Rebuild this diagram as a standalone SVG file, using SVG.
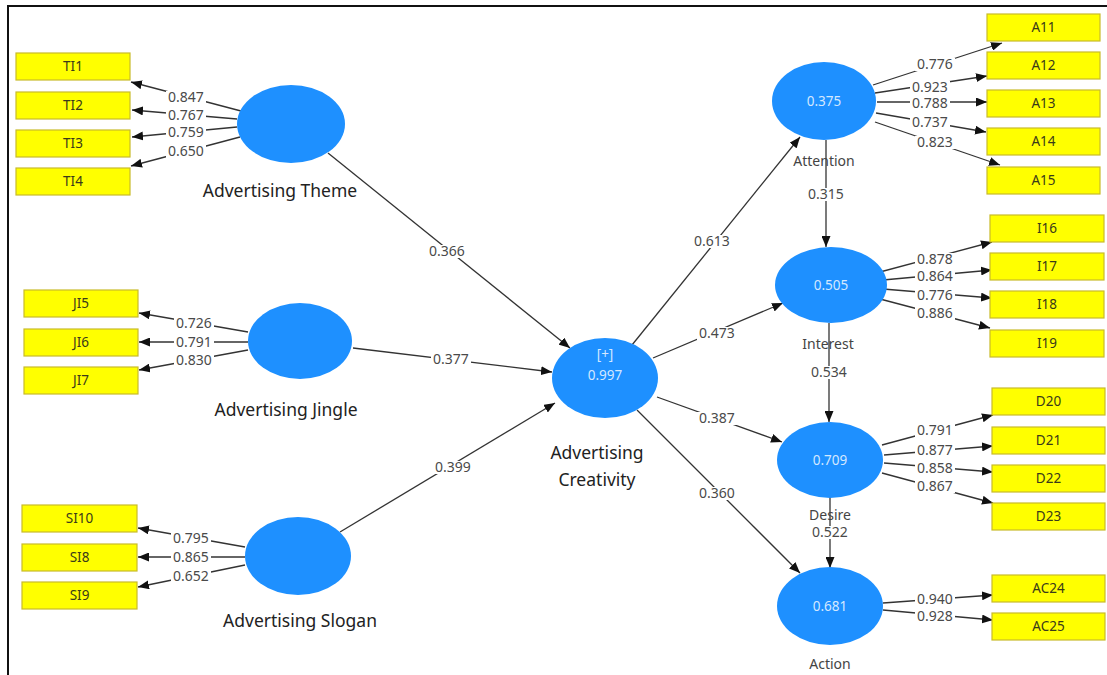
<svg xmlns="http://www.w3.org/2000/svg" width="1107" height="675" viewBox="0 0 1107 675">
<defs>
<marker id="ah" markerWidth="11" markerHeight="9" refX="11" refY="4.5" orient="auto" markerUnits="userSpaceOnUse"><path d="M0,0 L11,4.5 L0,9 z" fill="#111"/></marker>
<style>
.box{fill:#ffff00;stroke:#c9bb2a;stroke-width:1.2}
.bt{font-family:"Noto Sans","Liberation Sans",sans-serif;font-size:13.5px;fill:#3a3a1a;text-anchor:middle}
.lv{fill:#1e90ff}
.lt{font-family:"Noto Sans","Liberation Sans",sans-serif;font-size:13.5px;fill:#d4e8ff;text-anchor:middle}
.nm{font-family:"Noto Sans","Liberation Sans",sans-serif;font-size:17.5px;fill:#222;text-anchor:middle}
.nm2{font-family:"Noto Sans","Liberation Sans",sans-serif;font-size:14px;fill:#444;text-anchor:middle}
.c{stroke:#333;stroke-width:1.3;fill:none;marker-end:url(#ah)}
.bg{fill:#fff}
.w{font-family:"Noto Sans","Liberation Sans",sans-serif;font-size:14px;fill:#4a4a4a;text-anchor:middle}
</style>
</defs>
<rect width="1107" height="675" fill="#fff"/>
<path d="M8,675 L8,6 L1107,6" fill="none" stroke="#111" stroke-width="2"/>

<g id="connectors">
<line class="c" x1="241" y1="111" x2="131" y2="82"/>
<line class="c" x1="237" y1="119" x2="132" y2="110"/>
<line class="c" x1="237" y1="127" x2="132" y2="137"/>
<line class="c" x1="240" y1="137" x2="131" y2="166"/>
<line class="c" x1="248" y1="332" x2="139" y2="313"/>
<line class="c" x1="248" y1="342" x2="139" y2="342"/>
<line class="c" x1="248" y1="350" x2="139" y2="370"/>
<line class="c" x1="245" y1="547" x2="138" y2="528"/>
<line class="c" x1="245" y1="557" x2="138" y2="557"/>
<line class="c" x1="245" y1="565" x2="138" y2="587"/>
<line class="c" x1="328" y1="153" x2="570" y2="348"/>
<line class="c" x1="353" y1="348" x2="552" y2="372"/>
<line class="c" x1="340" y1="532" x2="555" y2="403"/>
<line class="c" x1="632" y1="345" x2="800" y2="137"/>
<line class="c" x1="653" y1="358" x2="783" y2="303"/>
<line class="c" x1="657" y1="397" x2="782" y2="442"/>
<line class="c" x1="637" y1="410" x2="800" y2="573"/>
<line class="c" x1="826" y1="140" x2="826" y2="247"/>
<line class="c" x1="829" y1="323" x2="829" y2="422"/>
<line class="c" x1="830" y1="497" x2="830" y2="568"/>
<line class="c" x1="873" y1="85" x2="1002" y2="43"/>
<line class="c" x1="875" y1="93" x2="987" y2="76"/>
<line class="c" x1="877" y1="102" x2="987" y2="102"/>
<line class="c" x1="876" y1="113" x2="986" y2="132"/>
<line class="c" x1="875" y1="122" x2="1000" y2="165"/>
<line class="c" x1="880" y1="272" x2="992" y2="242"/>
<line class="c" x1="883" y1="280" x2="992" y2="270"/>
<line class="c" x1="883" y1="289" x2="992" y2="298"/>
<line class="c" x1="880" y1="299" x2="990" y2="328"/>
<line class="c" x1="882" y1="445" x2="993" y2="415"/>
<line class="c" x1="884" y1="455" x2="993" y2="446"/>
<line class="c" x1="884" y1="463" x2="993" y2="472"/>
<line class="c" x1="882" y1="473" x2="993" y2="503"/>
<line class="c" x1="883" y1="603" x2="993" y2="595"/>
<line class="c" x1="883" y1="610" x2="993" y2="620"/>
<g id="label-bg">
<rect class="bg" x="166" y="91" width="40" height="13"/>
<rect class="bg" x="166" y="109" width="40" height="13"/>
<rect class="bg" x="166" y="126" width="40" height="13"/>
<rect class="bg" x="166" y="145" width="40" height="13"/>
<rect class="bg" x="174" y="317" width="40" height="13"/>
<rect class="bg" x="174" y="336" width="40" height="13"/>
<rect class="bg" x="174" y="354" width="40" height="13"/>
<rect class="bg" x="171" y="532" width="40" height="13"/>
<rect class="bg" x="171" y="551" width="40" height="13"/>
<rect class="bg" x="171" y="570" width="40" height="13"/>
<rect class="bg" x="427" y="245" width="40" height="13"/>
<rect class="bg" x="431" y="353" width="40" height="13"/>
<rect class="bg" x="433" y="461" width="40" height="13"/>
<rect class="bg" x="692" y="235" width="40" height="13"/>
<rect class="bg" x="697" y="327" width="40" height="13"/>
<rect class="bg" x="697" y="412" width="40" height="13"/>
<rect class="bg" x="697" y="487" width="40" height="13"/>
<rect class="bg" x="806" y="188" width="40" height="13"/>
<rect class="bg" x="809" y="366" width="40" height="13"/>
<rect class="bg" x="810" y="526" width="40" height="13"/>
<rect class="bg" x="915" y="58" width="40" height="13"/>
<rect class="bg" x="910" y="81" width="40" height="13"/>
<rect class="bg" x="910" y="97" width="40" height="13"/>
<rect class="bg" x="910" y="116" width="40" height="13"/>
<rect class="bg" x="915" y="136" width="40" height="13"/>
<rect class="bg" x="915" y="253" width="40" height="13"/>
<rect class="bg" x="915" y="270" width="40" height="13"/>
<rect class="bg" x="915" y="289" width="40" height="13"/>
<rect class="bg" x="915" y="307" width="40" height="13"/>
<rect class="bg" x="915" y="424" width="40" height="13"/>
<rect class="bg" x="915" y="444" width="40" height="13"/>
<rect class="bg" x="915" y="462" width="40" height="13"/>
<rect class="bg" x="915" y="480" width="40" height="13"/>
<rect class="bg" x="915" y="593" width="40" height="13"/>
<rect class="bg" x="915" y="610" width="40" height="13"/>
</g>
<text class="w" x="186" y="102">0.847</text>
<text class="w" x="186" y="120">0.767</text>
<text class="w" x="186" y="137">0.759</text>
<text class="w" x="186" y="156">0.650</text>
<text class="w" x="194" y="328">0.726</text>
<text class="w" x="194" y="347">0.791</text>
<text class="w" x="194" y="365">0.830</text>
<text class="w" x="191" y="543">0.795</text>
<text class="w" x="191" y="562">0.865</text>
<text class="w" x="191" y="581">0.652</text>
<text class="w" x="447" y="256">0.366</text>
<text class="w" x="451" y="364">0.377</text>
<text class="w" x="453" y="472">0.399</text>
<text class="w" x="712" y="246">0.613</text>
<text class="w" x="717" y="338">0.473</text>
<text class="w" x="717" y="423">0.387</text>
<text class="w" x="717" y="498">0.360</text>
<text class="w" x="826" y="199">0.315</text>
<text class="w" x="829" y="377">0.534</text>
<text class="w" x="830" y="537">0.522</text>
<text class="w" x="935" y="69">0.776</text>
<text class="w" x="930" y="92">0.923</text>
<text class="w" x="930" y="108">0.788</text>
<text class="w" x="930" y="127">0.737</text>
<text class="w" x="935" y="147">0.823</text>
<text class="w" x="935" y="264">0.878</text>
<text class="w" x="935" y="281">0.864</text>
<text class="w" x="935" y="300">0.776</text>
<text class="w" x="935" y="318">0.886</text>
<text class="w" x="935" y="435">0.791</text>
<text class="w" x="935" y="455">0.877</text>
<text class="w" x="935" y="473">0.858</text>
<text class="w" x="935" y="491">0.867</text>
<text class="w" x="935" y="604">0.940</text>
<text class="w" x="935" y="621">0.928</text>
</g>

<g id="TI1"><rect class="box" x="16" y="53" width="114" height="27"/><text class="bt" x="73" y="71">TI1</text></g>
<g id="TI2"><rect class="box" x="16" y="92" width="114" height="27"/><text class="bt" x="73" y="110">TI2</text></g>
<g id="TI3"><rect class="box" x="16" y="130" width="114" height="27"/><text class="bt" x="73" y="148">TI3</text></g>
<g id="TI4"><rect class="box" x="16" y="168" width="114" height="27"/><text class="bt" x="73" y="186">TI4</text></g>
<g id="JI5"><rect class="box" x="24" y="290" width="114" height="27"/><text class="bt" x="81" y="308">JI5</text></g>
<g id="JI6"><rect class="box" x="24" y="329" width="114" height="27"/><text class="bt" x="81" y="347">JI6</text></g>
<g id="JI7"><rect class="box" x="24" y="367" width="114" height="27"/><text class="bt" x="81" y="385">JI7</text></g>
<g id="SI10"><rect class="box" x="22" y="505" width="115" height="27"/><text class="bt" x="79.5" y="523">SI10</text></g>
<g id="SI8"><rect class="box" x="22" y="544" width="115" height="27"/><text class="bt" x="79.5" y="562">SI8</text></g>
<g id="SI9"><rect class="box" x="22" y="582" width="115" height="27"/><text class="bt" x="79.5" y="600">SI9</text></g>

<g id="A11"><rect class="box" x="987" y="14" width="113" height="27"/><text class="bt" x="1043.5" y="32">A11</text></g>
<g id="A12"><rect class="box" x="987" y="52" width="113" height="27"/><text class="bt" x="1043.5" y="70">A12</text></g>
<g id="A13"><rect class="box" x="987" y="90" width="113" height="27"/><text class="bt" x="1043.5" y="108">A13</text></g>
<g id="A14"><rect class="box" x="987" y="128" width="113" height="27"/><text class="bt" x="1043.5" y="146">A14</text></g>
<g id="A15"><rect class="box" x="987" y="167" width="113" height="27"/><text class="bt" x="1043.5" y="185">A15</text></g>
<g id="I16"><rect class="box" x="990" y="215" width="114" height="27"/><text class="bt" x="1047" y="233">I16</text></g>
<g id="I17"><rect class="box" x="990" y="253" width="114" height="27"/><text class="bt" x="1047" y="271">I17</text></g>
<g id="I18"><rect class="box" x="990" y="291" width="114" height="27"/><text class="bt" x="1047" y="309">I18</text></g>
<g id="I19"><rect class="box" x="990" y="330" width="114" height="27"/><text class="bt" x="1047" y="348">I19</text></g>
<g id="D20"><rect class="box" x="992" y="388" width="113" height="27"/><text class="bt" x="1048.5" y="406">D20</text></g>
<g id="D21"><rect class="box" x="992" y="427" width="113" height="27"/><text class="bt" x="1048.5" y="445">D21</text></g>
<g id="D22"><rect class="box" x="992" y="465" width="113" height="27"/><text class="bt" x="1048.5" y="483">D22</text></g>
<g id="D23"><rect class="box" x="992" y="503" width="113" height="27"/><text class="bt" x="1048.5" y="521">D23</text></g>
<g id="AC24"><rect class="box" x="992" y="575" width="113" height="27"/><text class="bt" x="1048.5" y="593">AC24</text></g>
<g id="AC25"><rect class="box" x="992" y="613" width="113" height="27"/><text class="bt" x="1048.5" y="631">AC25</text></g>

<g id="theme"><ellipse class="lv" cx="291" cy="124" rx="54" ry="39"/><text class="nm" x="280" y="197">Advertising Theme</text></g>
<g id="jingle"><ellipse class="lv" cx="300" cy="341" rx="52" ry="38"/><text class="nm" x="286" y="416">Advertising Jingle</text></g>
<g id="slogan"><ellipse class="lv" cx="298" cy="556" rx="53" ry="39"/><text class="nm" x="300" y="627">Advertising Slogan</text></g>
<g id="creativity"><ellipse class="lv" cx="605" cy="378" rx="53" ry="40"/><text class="lt" x="605" y="359">[+]</text><text class="lt" x="605" y="380">0.997</text><text class="nm" x="597" y="459">Advertising</text><text class="nm" x="597" y="486">Creativity</text></g>
<g id="attention"><ellipse class="lv" cx="824" cy="101" rx="52" ry="39"/><text class="lt" x="824" y="106">0.375</text><text class="nm2" x="824" y="166">Attention</text></g>
<g id="interest"><ellipse class="lv" cx="831" cy="285" rx="56" ry="38"/><text class="lt" x="831" y="290">0.505</text><text class="nm2" x="828" y="349">Interest</text></g>
<g id="desire"><ellipse class="lv" cx="830" cy="460" rx="53" ry="38"/><text class="lt" x="830" y="465">0.709</text><text class="nm2" x="830" y="520">Desire</text></g>
<g id="action"><ellipse class="lv" cx="830" cy="606" rx="53" ry="39"/><text class="lt" x="830" y="611">0.681</text><text class="nm2" x="830" y="669">Action</text></g>
</svg>
